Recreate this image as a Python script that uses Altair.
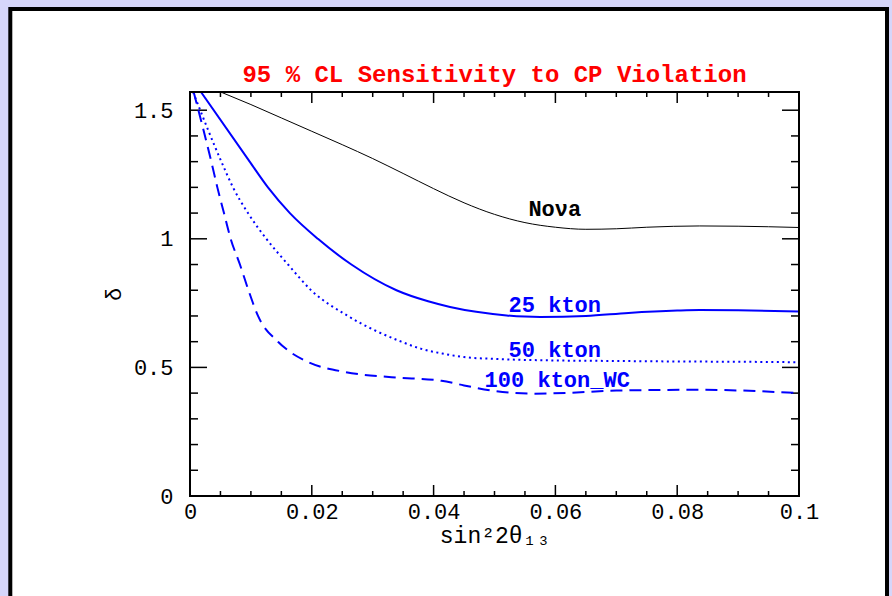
import altair as alt
import pandas as pd

# ---------------- data ----------------
nova_x = [0.00504, 0.01, 0.015, 0.02, 0.025, 0.03, 0.035, 0.04, 0.045, 0.05, 0.055, 0.06, 0.065, 0.07, 0.075, 0.0837, 0.09, 0.1]
nova_y = [1.5708, 1.522, 1.47, 1.418, 1.366, 1.312, 1.254, 1.195, 1.14, 1.095, 1.063, 1.045, 1.037, 1.039, 1.045, 1.050, 1.049, 1.044]

k25_x = [0.0018, 0.0098, 0.0128, 0.0164, 0.0210, 0.0265, 0.0339, 0.0391, 0.0427, 0.047, 0.052, 0.0575, 0.065, 0.072, 0.08, 0.0837, 0.09, 0.1]
k25_y = [1.5708, 1.3, 1.2, 1.1, 1.0, 0.9, 0.8, 0.757, 0.735, 0.716, 0.702, 0.696, 0.70, 0.712, 0.721, 0.723, 0.722, 0.717]

k50_x = [0.0005, 0.00515, 0.00706, 0.00952, 0.01253, 0.0161, 0.0199, 0.02594, 0.0347, 0.038, 0.0419, 0.045, 0.05, 0.06, 0.07, 0.08, 0.09, 0.1]
k50_y = [1.5708, 1.3, 1.2, 1.1, 1.0, 0.9, 0.8, 0.7, 0.6, 0.572, 0.552, 0.54, 0.533, 0.527, 0.525, 0.523, 0.522, 0.52]

k100_x = [0.0006, 0.0035, 0.00449, 0.00558, 0.00668, 0.0082, 0.0096, 0.01117, 0.01445, 0.0161, 0.0194, 0.02545, 0.0331, 0.0413, 0.045, 0.05, 0.0563, 0.062, 0.07, 0.0837, 0.1]
k100_y = [1.5708, 1.3, 1.2, 1.1, 1.0, 0.9, 0.8, 0.7, 0.6, 0.566, 0.521, 0.482, 0.462, 0.448, 0.43, 0.408, 0.398, 0.401, 0.41, 0.413, 0.40]

label_text = ["Noνa", "25 kton", "50 kton", "100 kton_WC"]
label_x = [0.0599, 0.0599, 0.0599, 0.0603]
label_y = [1.116, 0.744, 0.566, 0.45]
label_color = ["black", "#0000ff", "#0000ff", "#0000ff"]

x_major = [0, 0.02, 0.04, 0.06, 0.08, 0.1]
x_minor = [0.005, 0.01, 0.015, 0.025, 0.03, 0.035, 0.045, 0.05, 0.055, 0.065, 0.07, 0.075, 0.085, 0.09, 0.095]
y_major = [0, 0.5, 1.0, 1.5]
y_minor = [0.1, 0.2, 0.3, 0.4, 0.6, 0.7, 0.8, 0.9, 1.1, 1.2, 1.3, 1.4]

title_text = ["95 % CL Sensitivity to CP Violation"]
x_title = "sin²2θ₁₃"
y_title = "δ"

# ---------------- layout ----------------
W, H = 609, 404
FONT = "Liberation Mono"
BLUE = "#0000ff"

xs = alt.Scale(domain=[0, 0.1], nice=False, zero=False)
ys = alt.Scale(domain=[0, 1.5708], nice=False, zero=False)

x_axis = alt.Axis(values=x_major, format="~g", ticks=False, domain=False, grid=False, zindex=2,
                  labelFlush=False,
                  labelFont=FONT, labelFontSize=22, labelColor="black", labelPadding=5,
                  title=x_title, titleFont=FONT, titleFontSize=23, titleFontWeight="normal",
                  titleColor="black", titlePadding=2)
y_axis = alt.Axis(values=y_major, format="~g", ticks=False, domain=False, grid=False, zindex=2,
                  labelFlush=False,
                  labelFont=FONT, labelFontSize=22, labelColor="black", labelPadding=17,
                  title=y_title, titleFont=FONT, titleFontSize=22, titleFontWeight="normal",
                  titleColor="black", titlePadding=8)


def X():
    return alt.X("x:Q", scale=xs, axis=x_axis)


def Y():
    return alt.Y("y:Q", scale=ys, axis=y_axis)


def line_layer(xv, yv, **mark):
    df = pd.DataFrame({"x": xv, "y": yv})
    return alt.Chart(df).mark_line(interpolate="monotone", clip=True, **mark).encode(x=X(), y=Y())


# decorative slide frame
frame_bg = alt.Chart(alt.Data(values=[{}])).mark_rect(
    fill="white", stroke="black", strokeWidth=4
).encode(x=alt.value(10.3 - 190), x2=alt.value(887 - 190),
         y=alt.value(9 - 92), y2=alt.value(640))

# chart title as a text mark centred over the plot
title = alt.Chart(pd.DataFrame({"t": title_text})).mark_text(
    font=FONT, fontSize=24, fontWeight="bold", color="#ff0000",
    align="center", baseline="alphabetic"
).encode(x=alt.value(W / 2), y=alt.value(-10), text="t:N")

nova = line_layer(nova_x, nova_y, color="black", strokeWidth=1)
k25 = line_layer(k25_x, k25_y, color=BLUE, strokeWidth=2)
k50 = line_layer(k50_x, k50_y, color=BLUE, strokeWidth=2, strokeDash=[2, 3.5])
k100 = line_layer(k100_x, k100_y, color=BLUE, strokeWidth=2, strokeDash=[12, 7])

labels_df = pd.DataFrame({"t": label_text, "x": label_x, "y": label_y, "c": label_color})
labels = alt.Chart(labels_df).mark_text(
    font=FONT, fontSize=22, fontWeight="bold", align="center", baseline="middle"
).encode(x=X(), y=Y(), text="t:N", color=alt.Color("c:N", scale=None))


def xticks(vals, length):
    df = pd.DataFrame({"x": vals})
    bottom = alt.Chart(df).mark_rule(color="black", strokeWidth=1.5).encode(
        x=X(), y=alt.value(H), y2=alt.value(H - length))
    top = alt.Chart(df).mark_rule(color="black", strokeWidth=1.5).encode(
        x=X(), y=alt.value(0), y2=alt.value(length))
    return [bottom, top]


def yticks(vals, length):
    df = pd.DataFrame({"y": vals})
    left = alt.Chart(df).mark_rule(color="black", strokeWidth=1.5).encode(
        y=Y(), x=alt.value(0), x2=alt.value(length))
    right = alt.Chart(df).mark_rule(color="black", strokeWidth=1.5).encode(
        y=Y(), x=alt.value(W), x2=alt.value(W - length))
    return [left, right]


tick_layers = xticks(x_major, 11) + xticks(x_minor, 5) + yticks(y_major, 17) + yticks(y_minor, 8)

plot_frame = alt.Chart(alt.Data(values=[{}])).mark_rect(
    fillOpacity=0, stroke="black", strokeWidth=2
).encode(x=alt.value(0), x2=alt.value(W), y=alt.value(0), y2=alt.value(H))

chart = alt.layer(
    frame_bg, title, *tick_layers, nova, k25, k50, k100, labels, plot_frame
).properties(
    width=W, height=H,
    autosize=alt.AutoSizeParams(type="none"),
    padding={"left": 190, "top": 92, "right": 892 - 190 - W, "bottom": 596 - 92 - H},
    background="#d6d6fa",
).configure_view(stroke=None)

chart.save("out.html", embed_options={"renderer": "svg", "actions": False})
